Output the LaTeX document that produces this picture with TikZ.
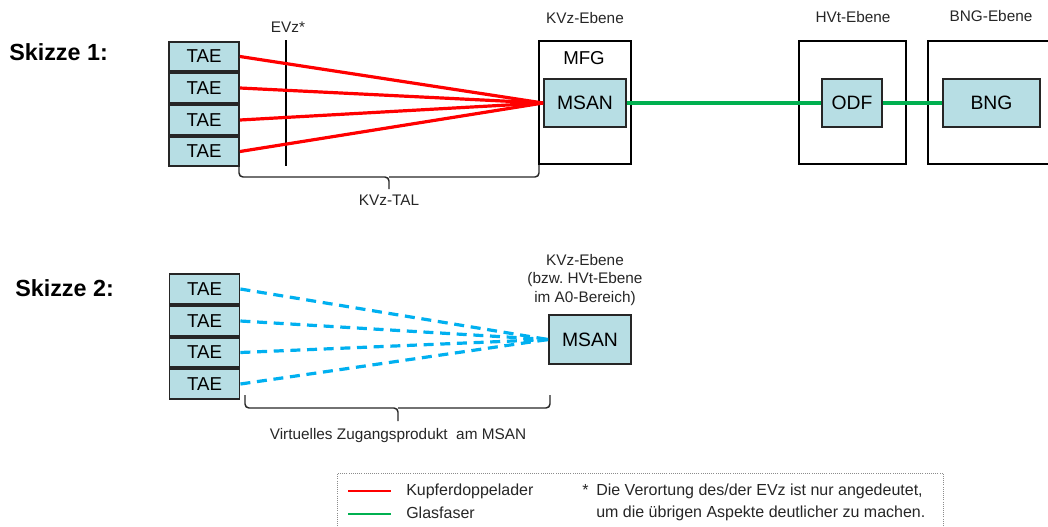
\documentclass[tikz,border=0pt]{standalone}
\usepackage{fontspec}
\setmainfont{Liberation Sans}
\begin{document}
\begin{tikzpicture}[x=0.75pt,y=-0.75pt,
  box/.style={draw=black!85,line width=1.4pt,fill=boxfill,inner sep=0pt,align=center},
  taebox/.style={box,minimum width=52.5pt,minimum height=22pt,font=\fontsize{14}{16}\selectfont},
  devbox/.style={box,minimum height=36pt,font=\fontsize{14.5}{16}\selectfont},
  frame/.style={draw=black,line width=1.1pt,inner sep=0pt},
  lbl/.style={inner sep=0pt,font=\fontsize{11.5}{13.8}\selectfont,text=black!85,align=center},
  sk/.style={inner sep=0pt,anchor=west,font=\fontsize{17.5}{19}\selectfont\bfseries},
  cu/.style={draw=cured,line width=2.4pt},
  gf/.style={draw=glgreen,line width=2.6pt},
  vz/.style={draw=vblue,line width=2.4pt,dash pattern=on 7.5pt off 5pt},
  brc/.style={draw=black!85,line width=1.1pt,rounded corners=3pt},
  leg/.style={inner sep=0pt,anchor=west,font=\fontsize{12}{14}\selectfont,text=black!85}
]
\definecolor{boxfill}{RGB}{183,222,228}
\definecolor{cured}{RGB}{255,0,0}
\definecolor{glgreen}{RGB}{0,176,80}
\definecolor{vblue}{RGB}{0,176,240}
\useasboundingbox (0,0) rectangle (1048,526);
\clip (0,0) rectangle (1048,526);

% ---------- Skizze 1 ----------
\node[sk] (sk1) at (9,52) {Skizze 1:};

\node[frame,minimum width=69pt,minimum height=92.25pt] (mfg) at (585,102.5) {};
\node[frame,minimum width=80.25pt,minimum height=92.25pt] (hvt) at (852.5,102.5) {};
\node[frame,minimum width=99pt,minimum height=92.25pt] (bngo) at (994,102.5) {};

\node[lbl] (kvz1) at (585,18) {KVz-Ebene};
\node[lbl] (hvtl) at (853,17) {HVt-Ebene};
\node[lbl] (bngl) at (991,16) {BNG-Ebene};
\node[lbl] (evzl) at (288,27) {EVz*};
\node[inner sep=0pt,font=\fontsize{14}{16}\selectfont] (mfgl) at (584,58) {MFG};

\node[taebox] (t1) at (204,56.5) {TAE};
\node[taebox] (t2) at (204,88) {TAE};
\node[taebox] (t3) at (204,120) {TAE};
\node[taebox] (t4) at (204,151.5) {TAE};

\node[devbox,minimum width=61.5pt] (msan1) at (585,103) {MSAN};
\node[devbox,minimum width=45pt] (odf) at (852,103) {ODF};
\node[devbox,minimum width=72.75pt] (bng) at (991.5,103) {BNG};

\coordinate (evzt) at (286,40);
\coordinate (evzb) at (286,166);
\draw[black,line width=1.4pt] (evzt) -- (evzb);

\foreach \t in {t1,t2,t3,t4}{\draw[cu] (\t.east) -- (msan1.west);}
\draw[gf] (msan1.east) -- (odf.west);
\draw[gf] (odf.east) -- (bng.west);

\coordinate (b1l) at (239,165);
\coordinate (b1r) at (539,165);
\coordinate (b1m) at (389,177);
\coordinate (b1t) at (389,189);
\draw[brc] (b1l) |- (b1m) -- (b1t);
\draw[brc] (b1r) |- (b1m);
\node[lbl] (kvztal) at (389,200) {KVz-TAL};

% ---------- Skizze 2 ----------
\node[sk] (sk2) at (15,288) {Skizze 2:};

\node[taebox] (u1) at (204.5,289) {TAE};
\node[taebox] (u2) at (204.5,321) {TAE};
\node[taebox] (u3) at (204.5,352.5) {TAE};
\node[taebox] (u4) at (204.5,384) {TAE};

\node[devbox,minimum width=61.5pt,minimum height=36.75pt] (msan2) at (590,339.5) {MSAN};
\node[lbl] (kvz2) at (585,280) {KVz-Ebene\\(bzw.\ HVt-Ebene\\im A0-Bereich)};

\foreach \t in {u1,u2,u3,u4}{\draw[vz] (\t.east) -- (msan2.west);}

\coordinate (b2l) at (245,395);
\coordinate (b2r) at (550,395);
\coordinate (b2m) at (398,408);
\coordinate (b2t) at (398,421);
\draw[brc] (b2l) |- (b2m) -- (b2t);
\draw[brc] (b2r) |- (b2m);
\node[lbl] (vzp) at (398,436) {Virtuelles Zugangsprodukt\ \ am MSAN};

% ---------- Legende ----------
\node[draw=black!45,densely dotted,line width=0.6pt,minimum width=454.5pt,minimum height=60pt,anchor=north west,inner sep=0pt] (legbox) at (337,473) {};
\coordinate (r1) at (348,491);
\coordinate (r2) at (391,491);
\coordinate (g1) at (348,514);
\coordinate (g2) at (391,514);
\draw[cu,line width=2.2pt] (r1) -- (r2);
\draw[gf,line width=2.2pt] (g1) -- (g2);
\node[leg] (lk) at (406,491) {Kupferdoppelader};
\node[leg] (lg) at (406,513) {Glasfaser};
\node[leg] (lst) at (582,490) {*};
\node[leg] (ln1) at (596,491) {Die Verortung des/der EVz ist nur angedeutet,};
\node[leg] (ln2) at (596,513) {um die übrigen Aspekte deutlicher zu machen.};
\end{tikzpicture}
\end{document}
